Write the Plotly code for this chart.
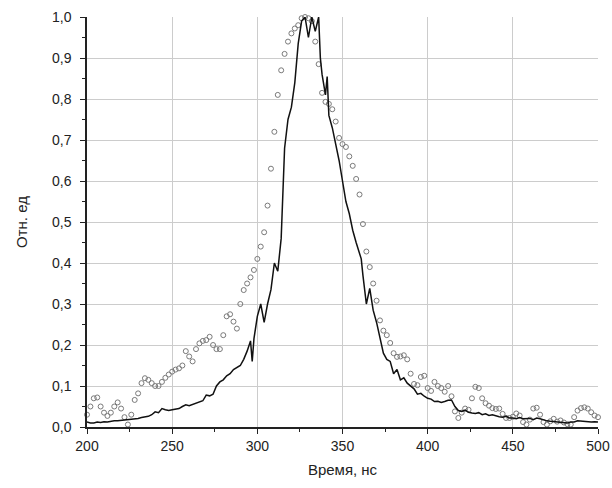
import plotly.graph_objects as go

# Open-circle series (time in ns, relative units)
circ_t = list(range(200, 501, 2))
circ_v = [0.03, 0.05, 0.07, 0.072, 0.05, 0.035, 0.027, 0.035, 0.05, 0.06,
          0.045, 0.024, 0.006, 0.03, 0.066, 0.082, 0.107, 0.119, 0.115, 0.107,
          0.10, 0.10, 0.11, 0.12, 0.128, 0.135, 0.14, 0.143, 0.15, 0.185,
          0.172, 0.16, 0.19, 0.204, 0.21, 0.212, 0.22, 0.20, 0.19, 0.19,
          0.224, 0.27, 0.275, 0.257, 0.24, 0.30, 0.334, 0.35, 0.365, 0.383,
          0.41, 0.44, 0.475, 0.54, 0.63, 0.72, 0.81, 0.87, 0.91, 0.94,
          0.96, 0.972, 0.98, 0.997, 1.0, 0.997, 0.99, 0.94, 0.885, 0.815,
          0.793, 0.788, 0.775, 0.745, 0.705, 0.69, 0.683, 0.66, 0.637, 0.605,
          0.567, 0.495, 0.428, 0.39, 0.35, 0.308, 0.26, 0.235, 0.224, 0.205,
          0.18, 0.171, 0.172, 0.175, 0.165, 0.13, 0.105, 0.102, 0.122, 0.125,
          0.095, 0.088, 0.11, 0.10, 0.095, 0.086, 0.10, 0.075, 0.038, 0.022,
          0.035, 0.045, 0.042, 0.07, 0.098, 0.095, 0.07, 0.058, 0.052, 0.046,
          0.044, 0.045, 0.032, 0.022, 0.022, 0.025, 0.033, 0.028, 0.012, 0.006,
          0.018, 0.045, 0.047, 0.03, 0.012, 0.006, 0.014, 0.02, 0.013, 0.016,
          0.011, 0.007, 0.006, 0.024, 0.04, 0.046, 0.048, 0.045, 0.036, 0.028,
          0.024]

# Solid black line series
line_t = [200, 202, 204, 206, 208, 210, 212, 214, 216, 218, 220, 222, 224, 226, 228,
          230, 232, 234, 236, 238, 240, 242, 244, 246, 248, 250, 252, 254, 256, 258,
          260, 262, 264, 266, 268, 270, 272, 274, 276, 278, 280, 282, 284, 286, 288,
          290, 292, 294, 296, 297, 298, 300, 302, 304, 306, 308, 310, 312, 314, 315,
          316, 318, 320, 322, 324, 326, 328, 330, 332, 334, 336, 337, 338, 340, 341,
          342, 344, 346, 348, 350, 352, 354, 356, 358, 360, 361, 362, 364, 366, 368,
          370, 372, 374, 376, 378, 380, 382, 384, 386, 388, 390, 392, 394, 396, 398,
          400, 402, 404, 406, 408, 410, 412, 414, 416, 418, 420, 422, 424, 426, 428,
          430, 432, 434, 436, 438, 440, 442, 444, 446, 448, 450, 452, 454, 456, 458,
          460, 462, 464, 466, 468, 470, 472, 474, 476, 478, 480, 482, 484, 486, 488,
          490, 492, 494, 496, 498, 500]
line_v = [0.012, 0.010, 0.010, 0.012, 0.011, 0.013, 0.012, 0.014, 0.015, 0.015, 0.016, 0.017, 0.017, 0.019, 0.020,
          0.021, 0.023, 0.025, 0.026, 0.030, 0.037, 0.035, 0.045, 0.042, 0.040, 0.042, 0.044, 0.045, 0.050, 0.054,
          0.052, 0.055, 0.058, 0.060, 0.064, 0.078, 0.076, 0.080, 0.100, 0.110, 0.115, 0.125, 0.130, 0.140, 0.145,
          0.150, 0.165, 0.185, 0.210, 0.160, 0.215, 0.270, 0.300, 0.255, 0.300, 0.335, 0.400, 0.380, 0.460, 0.580,
          0.680, 0.750, 0.780, 0.840, 0.935, 0.990, 1.000, 0.950, 1.000, 0.965, 1.000, 0.900, 0.860, 0.810, 0.855,
          0.760, 0.730, 0.690, 0.650, 0.600, 0.550, 0.520, 0.480, 0.450, 0.420, 0.410, 0.370, 0.300, 0.338, 0.285,
          0.255, 0.220, 0.180, 0.165, 0.160, 0.130, 0.140, 0.115, 0.120, 0.107, 0.100, 0.093, 0.080, 0.082, 0.075,
          0.070, 0.068, 0.062, 0.063, 0.060, 0.062, 0.065, 0.066, 0.050, 0.040, 0.038, 0.041, 0.036, 0.034, 0.033,
          0.035, 0.030, 0.032, 0.028, 0.030, 0.027, 0.025, 0.024, 0.026, 0.022, 0.022, 0.020, 0.023, 0.020, 0.020,
          0.021, 0.018, 0.022, 0.020, 0.017, 0.015, 0.014, 0.013, 0.012, 0.012, 0.010, 0.010, 0.012, 0.012, 0.015,
          0.014, 0.013, 0.012, 0.012, 0.013, 0.012]

x_ticks = [200, 250, 300, 350, 400, 450, 500]
y_ticks = [0.0, 0.1, 0.2, 0.3, 0.4, 0.5, 0.6, 0.7, 0.8, 0.9, 1.0]

fig = go.Figure()
fig.add_trace(go.Scatter(
    x=circ_t, y=circ_v, mode="markers",
    marker=dict(symbol="circle-open", size=5, color="#7a7a7a", line=dict(width=1)),
    cliponaxis=False, showlegend=False))
fig.add_trace(go.Scatter(
    x=line_t, y=line_v, mode="lines",
    line=dict(color="#111111", width=1.5),
    showlegend=False))

font_family = "Liberation Sans, Arial, sans-serif"
fig.update_layout(
    width=612, height=488,
    margin=dict(l=87, r=14, t=17, b=61, autoexpand=False),
    paper_bgcolor="white", plot_bgcolor="white",
    separators=", ",
    font=dict(family=font_family, size=14, color="#222222"),
    xaxis=dict(
        range=[200, 500], tickvals=x_ticks, ticks="outside", ticklen=5, tickwidth=1.2,
        tickcolor="#222222", showline=True, linecolor="#222222", linewidth=1.5,
        showgrid=True, gridcolor="#cccccc", gridwidth=1, zeroline=False, automargin=False,
        minor=dict(dtick=25, ticks="outside", ticklen=3, tickcolor="#222222", showgrid=False),
        title=dict(text="Время, нс", font=dict(size=15), standoff=12),
        tickfont=dict(size=14),
    ),
    yaxis=dict(
        range=[0, 1.0], tickvals=y_ticks, tickformat=".1f", ticks="outside", ticklen=5,
        tickwidth=1.2, tickcolor="#222222", showline=True, linecolor="#222222", linewidth=1.5,
        showgrid=True, gridcolor="#cccccc", gridwidth=1, zeroline=False, automargin=False,
        ticklabelstandoff=6,
        minor=dict(dtick=0.05, ticks="outside", ticklen=3, tickcolor="#222222", showgrid=False),
        title=dict(text="Отн. ед", font=dict(size=15), standoff=21),
        tickfont=dict(size=14),
    ),
)

fig.write_html("out.html", config={"displayModeBar": False},
               post_script="document.body.style.margin='0';document.body.style.overflow='hidden';")
